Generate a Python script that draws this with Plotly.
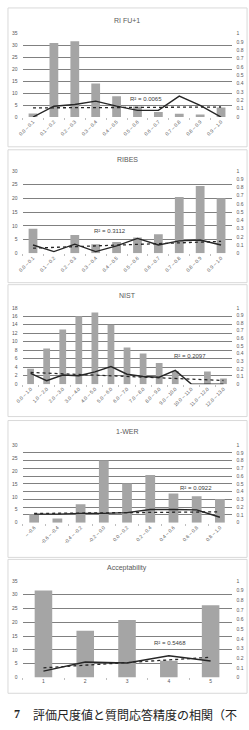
import numpy as np
import plotly.graph_objects as go

W, H = 249, 730

# ---------------- data ----------------
rifu_cats = ["0.0 – 0.1", "0.1 – 0.2", "0.2 – 0.3", "0.3 – 0.4", "0.4 – 0.5",
             "0.5 – 0.6", "0.6 – 0.7", "0.7 – 0.8", "0.8 – 0.9", "0.9 – 1.0"]
rifu_counts = [1.5, 31.0, 31.7, 14.0, 8.7, 4.4, 2.1, 1.4, 1.1, 4.0]
rifu_acc = [0.0, 0.13, 0.15, 0.19, 0.13, 0.08, 0.08, 0.25, 0.14, 0.0]
rifu_r2 = "R² = 0.0065"

ribes_cats = rifu_cats
ribes_counts = [8.9, 0.0, 6.6, 3.3, 4.1, 5.7, 6.9, 20.5, 24.5, 20.0]
ribes_acc = [0.10, 0.02, 0.11, 0.02, 0.09, 0.18, 0.10, 0.15, 0.16, 0.10]
ribes_r2 = "R² = 0.3112"

nist_cats = ["0.0 – 1.0", "1.0 – 2.0", "2.0 – 3.0", "3.0 – 4.0", "4.0 – 5.0",
             "5.0 – 6.0", "6.0 – 7.0", "7.0 – 8.0", "8.0 – 9.0", "9.0 – 10.0",
             "10.0 – 11.0", "11.0 – 12.0", "12.0 – 13.0"]
nist_counts = [3.6, 8.4, 12.9, 16.0, 16.9, 14.0, 8.65, 7.25, 5.0, 3.1, 0.0, 3.0, 1.3]
nist_acc = [0.14, 0.045, 0.12, 0.11, 0.16, 0.23, 0.13, 0.10, 0.09, 0.18, 0.0, 0.0, 0.0]
nist_r2 = "R² = 0.2097"

wer_cats = ["– -0.6", "-0.6 – -0.4", "-0.4 – -0.2", "-0.2 – 0.0", "0.0 – 0.2",
            "0.2 – 0.4", "0.4 – 0.6", "0.6 – 0.8", "0.8 – 1.0"]
wer_counts = [3.3, 1.65, 7.1, 24.0, 15.1, 18.4, 11.3, 10.2, 9.15]
wer_acc = [0.11, 0.11, 0.12, 0.12, 0.13, 0.17, 0.17, 0.165, 0.07]
wer_r2 = "R² = 0.0922"

acc_cats = ["1", "2", "3", "4", "5"]
acc_counts = [31.5, 16.9, 20.8, 6.0, 26.2]
acc_acc = [0.065, 0.16, 0.15, 0.225, 0.17]
acc_r2 = "R² = 0.5468"

titles = ["RI FU+1", "RIBES", "NIST", "1-WER", "Acceptability"]
left_max = [35, 30, 18, 30, 35]
left_step = [5, 5, 2, 5, 5]
right_ticks = [round(v * 0.1, 1) for v in range(11)]
caption_num = "7"
caption_text = "評価尺度値と質問応答精度の相関（不"

panels = [
    (rifu_cats, rifu_counts, rifu_acc, rifu_r2),
    (ribes_cats, ribes_counts, ribes_acc, ribes_r2),
    (nist_cats, nist_counts, nist_acc, nist_r2),
    (wer_cats, wer_counts, wer_acc, wer_r2),
    (acc_cats, acc_counts, acc_acc, acc_r2),
]

# ---------------- layout geometry (pixels) ----------------
plot_top = [30.7, 169.3, 307.3, 445.7, 582.7]
plot_bot = [115.0, 252.3, 384.3, 524.0, 680.0]
title_y = [18.0, 157.7, 295.0, 431.7, 570.0]
box_top = [5, 148, 284, 421, 561]
box_bot = [145, 282, 417, 559, 696]
r2_pos = [(5.4, 0.21), (3.7, 0.27), (9.9, 0.37), (6.95, 0.45), (3.03, 0.36)]
x_left, x_right = 16, 231
grid_on_right = [False, False, False, True, False]
rotate = [True, True, True, True, False]

GRAY_TXT = "#595959"
GRID = "#808080"
BAR = "#a5a5a5"
LINE = "#262626"
FONT = "Liberation Sans"


def py(px):
    return 1 - px / H


def pxx(px):
    return px / W


fig = go.Figure()
layout = dict(
    width=W, height=H,
    margin=dict(l=0, r=0, t=0, b=0),
    paper_bgcolor="white", plot_bgcolor="rgba(0,0,0,0)",
    showlegend=False,
    bargap=0.58,
    font=dict(family=FONT, color=GRAY_TXT, size=5),
)
annotations = []
shapes = []

for i, (cats, counts, accs, r2) in enumerate(panels):
    n = i + 1
    xa = "x" if n == 1 else f"x{n}"
    ya = "y" if n == 1 else f"y{n}"
    yr = f"y{n + 5}"
    xkey = "xaxis" if n == 1 else f"xaxis{n}"
    ykey = "yaxis" if n == 1 else f"yaxis{n}"
    yrkey = f"yaxis{n + 5}"

    fig.add_trace(go.Bar(x=cats, y=counts, xaxis=xa, yaxis=ya,
                         marker=dict(color=BAR, line=dict(width=0))))
    fig.add_trace(go.Scatter(x=cats, y=accs, xaxis=xa, yaxis=yr, mode="lines",
                             line=dict(color=LINE, width=1.4)))
    # linear trendline of accuracy (as in the spreadsheet chart)
    idx = np.arange(len(accs))
    k, b = np.polyfit(idx, np.array(accs), 1)
    fig.add_trace(go.Scatter(x=cats, y=k * idx + b, xaxis=xa, yaxis=yr, mode="lines",
                             line=dict(color=LINE, width=1.3, dash="dot")))

    dom_y = [py(plot_bot[i]), py(plot_top[i])]
    layout[xkey] = dict(
        domain=[pxx(x_left), pxx(x_right)], anchor=ya, type="category",
        tickangle=-45 if rotate[i] else 0, tickfont=dict(size=5, color=GRAY_TXT),
        showgrid=False, zeroline=False, showline=False,
        ticks="outside", tickson="boundaries", ticklen=2, tickcolor="#bfbfbf",
        fixedrange=True,
    )
    layout[ykey] = dict(
        domain=dom_y, anchor=xa, range=[0, left_max[i]],
        tickvals=list(range(0, left_max[i] + 1, left_step[i])),
        showgrid=not grid_on_right[i], gridcolor=GRID, gridwidth=1.4,
        zeroline=False, showline=False, ticks="", ticklabelstandoff=4,
        tickfont=dict(size=5, color=GRAY_TXT), fixedrange=True,
    )
    layout[yrkey] = dict(
        overlaying=ya, side="right", anchor=xa, range=[0, 1],
        tickvals=right_ticks, ticktext=[("%g" % v) for v in right_ticks],
        showgrid=grid_on_right[i], gridcolor=GRID, gridwidth=1.4,
        zeroline=False, showline=False, ticks="", ticklabelstandoff=4,
        tickfont=dict(size=5, color=GRAY_TXT), fixedrange=True,
    )

    annotations.append(dict(text=titles[i], x=pxx((x_left + x_right) / 2), y=py(title_y[i]),
                            xref="paper", yref="paper", showarrow=False,
                            font=dict(size=7, color=GRAY_TXT), xanchor="center", yanchor="middle"))
    annotations.append(dict(text=r2, x=r2_pos[i][0], y=r2_pos[i][1], xref=xa, yref=yr,
                            showarrow=False, font=dict(size=6, color="#404040"),
                            xanchor="center", yanchor="middle"))
    shapes.append(dict(type="rect", xref="paper", yref="paper",
                       x0=pxx(1), x1=pxx(247), y0=py(box_bot[i]), y1=py(box_top[i]),
                       line=dict(color="#d9d9d9", width=1), layer="below"))

annotations.append(dict(text="<b>" + caption_num + "</b>", x=pxx(10), y=py(717),
                        xref="paper", yref="paper", showarrow=False, xanchor="center",
                        yanchor="middle", font=dict(size=12, color="#222222",
                                                    family="Liberation Serif")))
annotations.append(dict(text=caption_text, x=pxx(25), y=py(717), xref="paper", yref="paper",
                        showarrow=False, xanchor="left", yanchor="middle",
                        font=dict(size=12, color="#222222", family="Noto Sans CJK JP")))

layout["annotations"] = annotations
layout["shapes"] = shapes
fig.update_layout(**layout)
fig.write_html("out.html")
